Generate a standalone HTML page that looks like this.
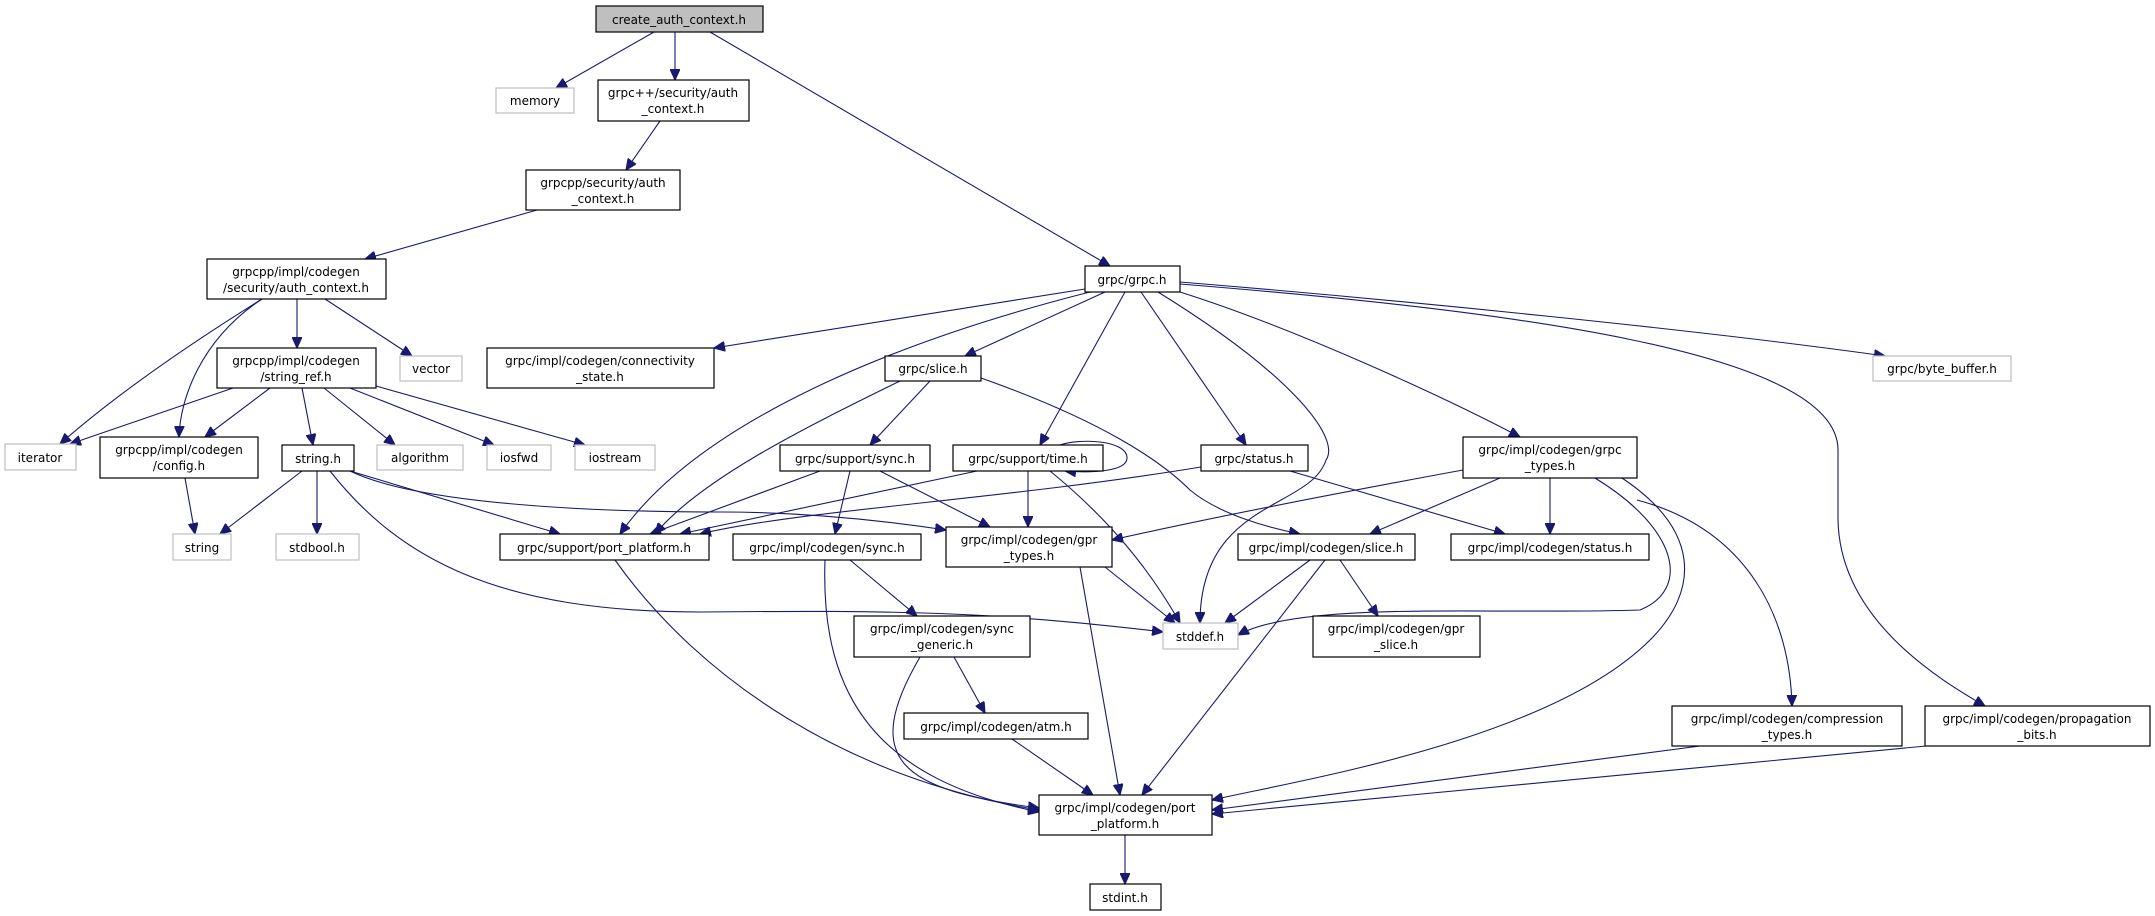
<!DOCTYPE html>
<html><head><meta charset="utf-8"><style>
html,body{margin:0;padding:0;background:#fff;}
svg{display:block;}
text{font-family:"DejaVu Sans","Liberation Sans",sans-serif;font-size:12px;fill:#000;text-anchor:middle;}
.n{fill:#fff;stroke:#000;stroke-width:1.2;}
.g{fill:#fff;stroke:#bfbfbf;stroke-width:1.2;}
.r{fill:#bfbfbf;stroke:#000;stroke-width:1.2;}
path{fill:none;stroke:#191970;stroke-width:1.1;marker-end:url(#a);}
</style></head><body>
<svg width="2155" height="916" viewBox="0 0 2155 916" xmlns="http://www.w3.org/2000/svg">
<defs><marker id="a" markerUnits="userSpaceOnUse" markerWidth="12" markerHeight="10" refX="11" refY="5" orient="auto"><path d="M0,0 L11,5 L0,10 Z" style="fill:#191970;stroke:#191970;marker-end:none"/></marker></defs>

<!-- edges -->
<path d="M654,32 L556,88"/>
<path d="M675,32 L675,80"/>
<path d="M710,32 L1110,266"/>
<path d="M660,121 L626,170"/>
<path d="M537,210 L365,259"/>
<path d="M297,299 L297,348"/>
<path d="M325,299 L412,356"/>
<path d="M262,299 C180,350 110,400 60,444"/>
<path d="M262,299 C200,340 180,400 179,437"/>
<path d="M233,388 L70,444"/>
<path d="M270,388 L205,437"/>
<path d="M302,388 L313,445"/>
<path d="M324,388 L395,445"/>
<path d="M350,388 L494,445"/>
<path d="M376,386 L585,445"/>
<path d="M185,478 L195,534"/>
<path d="M302,471 L220,534"/>
<path d="M317,471 L317,534"/>
<path d="M350,471 L560,534"/>
<path d="M350,471 C420,505 600,512 720,512 C800,512 880,520 946,530"/>
<path d="M330,471 C400,560 500,612 700,612 C900,610 1000,612 1163,632"/>
<path d="M1085,289 L714,348"/>
<path d="M1090,292 C900,340 700,420 620,534"/>
<path d="M1105,292 L965,356"/>
<path d="M1125,292 L1040,445"/>
<path d="M1141,292 L1246,445"/>
<path d="M1158,292 C1300,380 1340,440 1326,460 C1310,510 1200,500 1200,623"/>
<path d="M1180,292 C1300,330 1450,400 1520,437"/>
<path d="M1180,282 C1400,300 1700,330 1885,356"/>
<path d="M1180,284 C1500,310 1838,350 1838,450 L1838,520 C1840,620 1940,680 1985,706"/>
<path d="M900,381 C800,430 700,480 655,534"/>
<path d="M930,381 L870,445"/>
<path d="M981,378 C1100,420 1160,460 1190,490 C1220,515 1270,528 1300,534"/>
<path d="M820,471 L650,534"/>
<path d="M850,471 L835,534"/>
<path d="M880,471 L990,527"/>
<path d="M977,471 L680,534"/>
<path d="M1028,471 L1028,527"/>
<path d="M1060,445 C1080,438 1127,440 1127,458 C1127,472 1090,473 1065,471"/>
<path d="M1050,471 C1110,520 1150,570 1180,623"/>
<path d="M1201,467 C1000,500 800,510 700,534"/>
<path d="M1290,471 L1505,534"/>
<path d="M1463,470 C1300,500 1200,520 1112,540"/>
<path d="M1500,478 L1370,534"/>
<path d="M1550,478 L1550,534"/>
<path d="M1595,478 C1680,530 1690,590 1640,610 C1500,615 1300,600 1238,635"/>
<path d="M1622,478 C1700,530 1700,590 1650,640 C1550,740 1300,780 1212,800"/>
<path d="M1637,500 C1750,530 1790,620 1792,706"/>
<path d="M850,560 L917,616"/>
<path d="M825,560 C820,700 880,780 1039,812"/>
<path d="M1105,567 L1175,623"/>
<path d="M1080,567 L1120,795"/>
<path d="M615,560 C700,680 850,780 1039,810"/>
<path d="M1310,560 L1225,623"/>
<path d="M1325,560 L1142,795"/>
<path d="M1340,560 L1378,616"/>
<path d="M954,657 L985,713"/>
<path d="M920,657 C860,760 900,790 1039,808"/>
<path d="M1012,739 L1093,795"/>
<path d="M1700,746 L1212,810"/>
<path d="M1926,746 L1212,814"/>
<path d="M1125,835 L1125,884"/>

<!-- nodes -->
<rect class="r" x="596" y="6" width="167" height="26"/><text x="679" y="24">create_auth_context.h</text>
<rect class="g" x="496" y="88" width="78" height="25"/><text x="535" y="105">memory</text>
<rect class="n" x="598" y="80" width="151" height="41"/><text x="673" y="97">grpc++/security/auth</text><text x="673" y="113">_context.h</text>
<rect class="n" x="526" y="170" width="154" height="40"/><text x="603" y="187">grpcpp/security/auth</text><text x="603" y="203">_context.h</text>
<rect class="n" x="207" y="259" width="179" height="40"/><text x="296" y="276">grpcpp/impl/codegen</text><text x="296" y="292">/security/auth_context.h</text>
<rect class="n" x="217" y="348" width="159" height="40"/><text x="296" y="365">grpcpp/impl/codegen</text><text x="296" y="381">/string_ref.h</text>
<rect class="g" x="400" y="356" width="62" height="25"/><text x="431" y="373">vector</text>
<rect class="n" x="487" y="348" width="227" height="40"/><text x="600" y="365">grpc/impl/codegen/connectivity</text><text x="600" y="381">_state.h</text>
<rect class="g" x="5" y="444" width="71" height="26"/><text x="40" y="462">iterator</text>
<rect class="n" x="100" y="437" width="158" height="41"/><text x="179" y="454">grpcpp/impl/codegen</text><text x="179" y="470">/config.h</text>
<rect class="n" x="282" y="445" width="72" height="26"/><text x="318" y="463">string.h</text>
<rect class="g" x="377" y="445" width="86" height="25"/><text x="420" y="462">algorithm</text>
<rect class="g" x="487" y="445" width="64" height="25"/><text x="519" y="462">iosfwd</text>
<rect class="g" x="575" y="445" width="80" height="25"/><text x="615" y="462">iostream</text>
<rect class="g" x="173" y="534" width="58" height="26"/><text x="202" y="552">string</text>
<rect class="g" x="276" y="534" width="83" height="26"/><text x="317" y="552">stdbool.h</text>
<rect class="n" x="500" y="534" width="209" height="26"/><text x="604" y="552">grpc/support/port_platform.h</text>
<rect class="n" x="1085" y="266" width="95" height="26"/><text x="1132" y="284">grpc/grpc.h</text>
<rect class="n" x="885" y="356" width="96" height="25"/><text x="933" y="373">grpc/slice.h</text>
<rect class="g" x="1873" y="356" width="138" height="25"/><text x="1942" y="373">grpc/byte_buffer.h</text>
<rect class="n" x="780" y="445" width="150" height="26"/><text x="855" y="463">grpc/support/sync.h</text>
<rect class="n" x="953" y="445" width="150" height="26"/><text x="1028" y="463">grpc/support/time.h</text>
<rect class="n" x="1201" y="445" width="107" height="26"/><text x="1254" y="463">grpc/status.h</text>
<rect class="n" x="1463" y="437" width="174" height="41"/><text x="1550" y="454">grpc/impl/codegen/grpc</text><text x="1550" y="470">_types.h</text>
<rect class="n" x="733" y="534" width="188" height="26"/><text x="827" y="552">grpc/impl/codegen/sync.h</text>
<rect class="n" x="946" y="527" width="166" height="40"/><text x="1029" y="544">grpc/impl/codegen/gpr</text><text x="1029" y="560">_types.h</text>
<rect class="n" x="1238" y="534" width="177" height="26"/><text x="1326" y="552">grpc/impl/codegen/slice.h</text>
<rect class="n" x="1451" y="534" width="198" height="26"/><text x="1550" y="552">grpc/impl/codegen/status.h</text>
<rect class="n" x="854" y="616" width="176" height="41"/><text x="942" y="633">grpc/impl/codegen/sync</text><text x="942" y="649">_generic.h</text>
<rect class="g" x="1163" y="623" width="75" height="26"/><text x="1200" y="641">stddef.h</text>
<rect class="n" x="1313" y="616" width="167" height="41"/><text x="1396" y="633">grpc/impl/codegen/gpr</text><text x="1396" y="649">_slice.h</text>
<rect class="n" x="904" y="713" width="184" height="26"/><text x="996" y="731">grpc/impl/codegen/atm.h</text>
<rect class="n" x="1672" y="706" width="230" height="40"/><text x="1787" y="723">grpc/impl/codegen/compression</text><text x="1787" y="739">_types.h</text>
<rect class="n" x="1925" y="706" width="225" height="40"/><text x="2037" y="723">grpc/impl/codegen/propagation</text><text x="2037" y="739">_bits.h</text>
<rect class="n" x="1039" y="795" width="173" height="40"/><text x="1125" y="812">grpc/impl/codegen/port</text><text x="1125" y="828">_platform.h</text>
<rect class="n" x="1090" y="884" width="71" height="26"/><text x="1125" y="902">stdint.h</text>
</svg>
</body></html>
